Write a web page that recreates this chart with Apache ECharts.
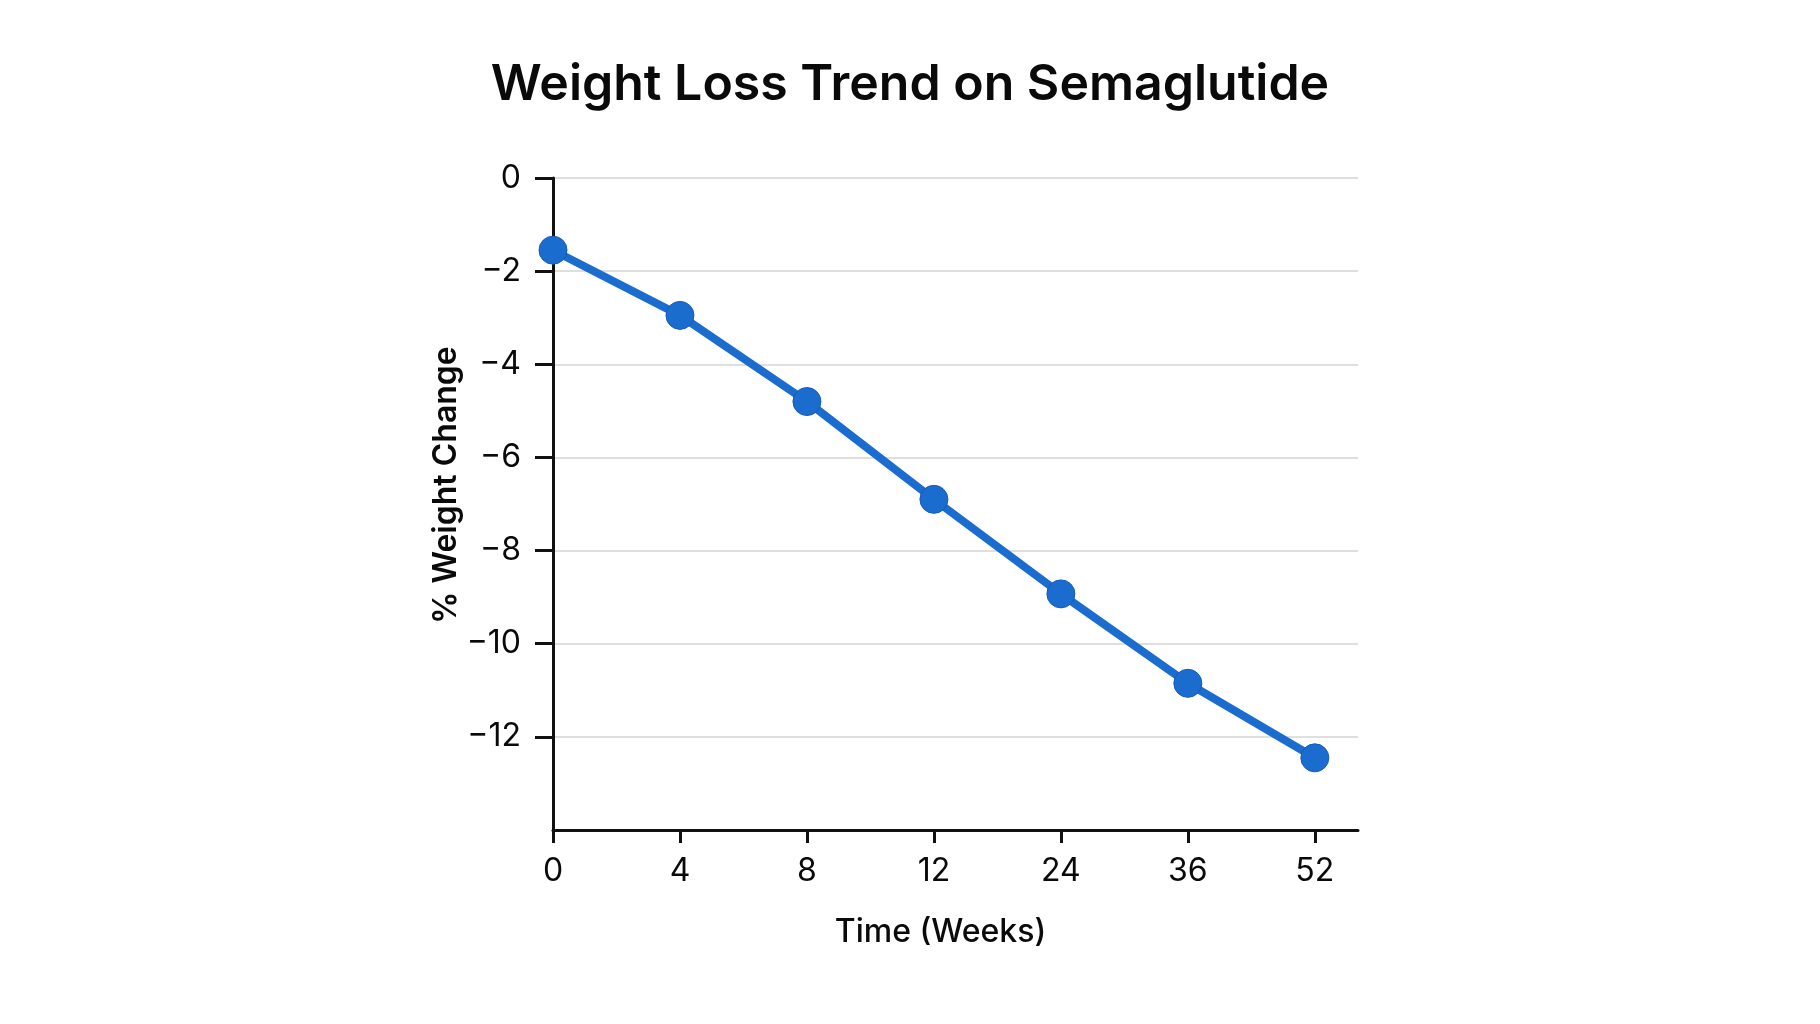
<!DOCTYPE html>
<html>
<head>
<meta charset="utf-8">
<title>Weight Loss Trend on Semaglutide</title>
<script src="https://cdn.jsdelivr.net/npm/echarts@6/dist/echarts.min.js"></script>
<style>
  html, body { margin: 0; padding: 0; background: #ffffff; }
  #chart { width: 1820px; height: 1024px; }
</style>
</head>
<body>
<div id="chart"></div>
<script>
// data
var weeks = ['0', '4', '8', '12', '24', '36', '52'];
var weightChange = [-1.55, -2.95, -4.8, -6.9, -8.93, -10.85, -12.45];
var yTicks = [0, -2, -4, -6, -8, -10, -12];

var FONT = 'Inter, "Liberation Sans", Arial, sans-serif';

// points placed by week index on a value axis (even spacing like the original)
var points = [];
for (var i = 0; i < weeks.length; i++) {
  points.push([i, weightChange[i]]);
}
var xTickIdx = [];
for (var j = 0; j < weeks.length; j++) {
  xTickIdx.push(j);
}

function minusFmt(v) {
  return v < 0 ? '\u2212' + Math.abs(v) : String(v);
}

var myChart = echarts.init(document.getElementById('chart'));

var option = {
  backgroundColor: '#ffffff',
  animation: false,
  title: {
    text: 'Weight Loss Trend on Semaglutide',
    left: 'center',
    top: 55,
    textStyle: {
      fontFamily: FONT,
      fontSize: 50,
      fontWeight: 600,
      color: '#0a0a0a'
    }
  },
  grid: {
    left: 553,
    top: 178,
    right: 462,
    bottom: 194,
    containLabel: false
  },
  xAxis: {
    type: 'value',
    min: 0,
    max: 6.34,
    name: 'Time (Weeks)',
    nameLocation: 'middle',
    nameGap: 86,
    nameTextStyle: {
      fontFamily: FONT,
      fontSize: 32,
      fontWeight: 500,
      color: '#0a0a0a',
      padding: [0, 30, 0, 0]
    },
    axisLine: { show: true, onZero: false, lineStyle: { color: '#111111', width: 3 } },
    axisTick: {
      show: true,
      length: 13,
      customValues: xTickIdx,
      lineStyle: { color: '#111111', width: 3 }
    },
    axisLabel: {
      customValues: xTickIdx,
      margin: 25,
      fontFamily: FONT,
      fontSize: 32,
      color: '#0a0a0a',
      formatter: function (v) { return weeks[Math.round(v)]; }
    },
    splitLine: { show: false }
  },
  yAxis: {
    type: 'value',
    min: -14,
    max: 0,
    interval: 2,
    name: '% Weight Change',
    nameLocation: 'middle',
    nameGap: 80,
    nameRotate: 90,
    nameTextStyle: {
      fontFamily: FONT,
      fontSize: 32,
      fontWeight: 600,
      color: '#0a0a0a',
      padding: [0, 0, 0, 38]
    },
    axisLine: { show: true, onZero: false, lineStyle: { color: '#111111', width: 3 } },
    axisTick: {
      show: true,
      length: 18,
      customValues: yTicks,
      lineStyle: { color: '#111111', width: 3 }
    },
    axisLabel: {
      customValues: yTicks,
      margin: 32,
      fontFamily: FONT,
      fontSize: 32,
      color: '#0a0a0a',
      formatter: minusFmt
    },
    splitLine: { show: true, lineStyle: { color: '#d4d4d4', width: 1.5 } }
  },
  series: [{
    name: '% Weight Change',
    type: 'line',
    data: points,
    symbol: 'circle',
    symbolSize: 28,
    lineStyle: { color: '#1b6ccf', width: 8 },
    itemStyle: { color: '#1b6ccf', borderColor: '#165cb5', borderWidth: 1 },
    z: 5
  }]
};

myChart.setOption(option);
</script>
</body>
</html>
